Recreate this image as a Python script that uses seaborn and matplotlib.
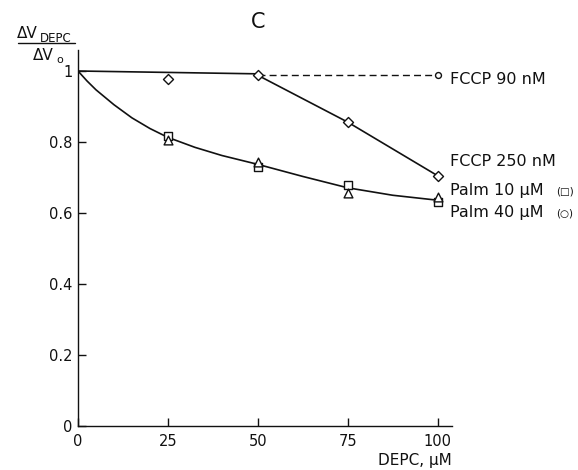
import matplotlib
matplotlib.use("Agg")
import matplotlib.pyplot as plt
from matplotlib.lines import Line2D
import seaborn as sns

# Measured points
depc_x = [25, 50, 75, 100]
fccp90_diamond_x = [25]
fccp90_diamond_y = [0.978]
fccp90_circle_x = [100]
fccp90_circle_y = [0.990]
fccp250_x = [50, 75, 100]
fccp250_y = [0.988, 0.856, 0.705]
palm10_y = [0.818, 0.730, 0.679, 0.632]   # squares
palm40_y = [0.806, 0.745, 0.656, 0.645]   # triangles

# Drawn trend lines
fccp90_solid_x = [0, 50]
fccp90_solid_y = [1.0, 0.992]
fccp90_dash_x = [50, 100]
fccp90_dash_y = [0.990, 0.990]
palm_curve_x = [0, 2.5, 5, 10, 15, 20, 25, 32.5, 40, 50, 62.5, 75, 87.5, 100]
palm_curve_y = [1.0, 0.972, 0.947, 0.905, 0.868, 0.838, 0.813, 0.785, 0.762,
                0.737, 0.703, 0.671, 0.650, 0.636]

x_ticks = [0, 25, 50, 75, 100]
y_ticks = [0, 0.2, 0.4, 0.6, 0.8, 1]
y_tick_labels = ["0", "0.2", "0.4", "0.6", "0.8", "1"]

sns.set_style("ticks")
plt.rcParams["font.family"] = ["DejaVu Sans"]

W, H = 578, 470
fig = plt.figure(figsize=(W / 100, H / 100), dpi=100)
ax = fig.add_axes([78 / W, 1 - 426 / H, (452 - 78) / W, (426 - 49.7) / H])

ink = "#111111"
lw = 1.2

sns.lineplot(x=fccp90_solid_x, y=fccp90_solid_y, ax=ax, color=ink, lw=lw)
sns.lineplot(x=fccp90_dash_x, y=fccp90_dash_y, ax=ax, color=ink, lw=1.0,
             linestyle=(0, (5, 3)))
sns.lineplot(x=fccp250_x, y=fccp250_y, ax=ax, color=ink, lw=lw)
sns.lineplot(x=palm_curve_x, y=palm_curve_y, ax=ax, color=ink, lw=lw, sort=False)

mk = dict(ax=ax, facecolor="white", edgecolor=ink, linewidth=1.0, zorder=5)
sns.scatterplot(x=fccp90_diamond_x, y=fccp90_diamond_y, marker="D", s=26, **mk)
sns.scatterplot(x=fccp250_x, y=fccp250_y, marker="D", s=26, **mk)
sns.scatterplot(x=fccp90_circle_x, y=fccp90_circle_y, marker="o", s=18, **mk)
sns.scatterplot(x=depc_x, y=palm10_y, marker="s", s=34, **mk)
sns.scatterplot(x=depc_x, y=palm40_y, marker="^", s=40, **mk)

ax.set_xlim(0, 104)
ax.set_ylim(0, 1.06)
ax.set_xticks(x_ticks)
ax.set_xticklabels([str(v) for v in x_ticks])
ax.set_yticks(y_ticks)
ax.set_yticklabels(y_tick_labels)
ax.tick_params(axis="both", direction="in", length=6, width=1.0, colors=ink,
               labelsize=10.5)
ax.tick_params(axis="x", pad=6)
ax.tick_params(axis="y", pad=4)
sns.despine(ax=ax)
for side in ("left", "bottom"):
    ax.spines[side].set_color(ink)
    ax.spines[side].set_linewidth(1.0)
ax.set_xlabel("")
ax.set_ylabel("")

def fx(px):
    return px / W

def fy(py):
    return 1 - py / H

# x-axis label under the last tick
fig.text(fx(452), fy(461), "DEPC, µM", ha="right", va="center",
         fontsize=11, color=ink)

# panel letter
fig.text(fx(258), fy(22), "C", ha="center", va="center", fontsize=15, color=ink)

# y-axis ratio label
fig.text(fx(17), fy(33), "ΔV", ha="left", va="center", fontsize=11, color=ink)
fig.text(fx(40), fy(38), "DEPC", ha="left", va="center", fontsize=8.5, color=ink)
fig.add_artist(Line2D([fx(18), fx(75)], [fy(43), fy(43)], color=ink, lw=1.0))
fig.text(fx(33), fy(55), "ΔV", ha="left", va="center", fontsize=11, color=ink)
fig.text(fx(56), fy(60), "o", ha="left", va="center", fontsize=8, color=ink)

# series names at the right end
lab = dict(ha="left", va="center", fontsize=11.5, color=ink)
fig.text(fx(450), fy(79), "FCCP 90 nM", **lab)
fig.text(fx(450), fy(162), "FCCP 250 nM", **lab)
fig.text(fx(450), fy(190), "Palm 10 µM", **lab)
fig.text(fx(450), fy(212), "Palm 40 µM", **lab)
fig.text(fx(556), fy(191), "(□)", ha="left", va="center", fontsize=7.5, color=ink)
fig.text(fx(556), fy(213), "(○)", ha="left", va="center", fontsize=7.5, color=ink)

fig.savefig("out.png", dpi=100)
